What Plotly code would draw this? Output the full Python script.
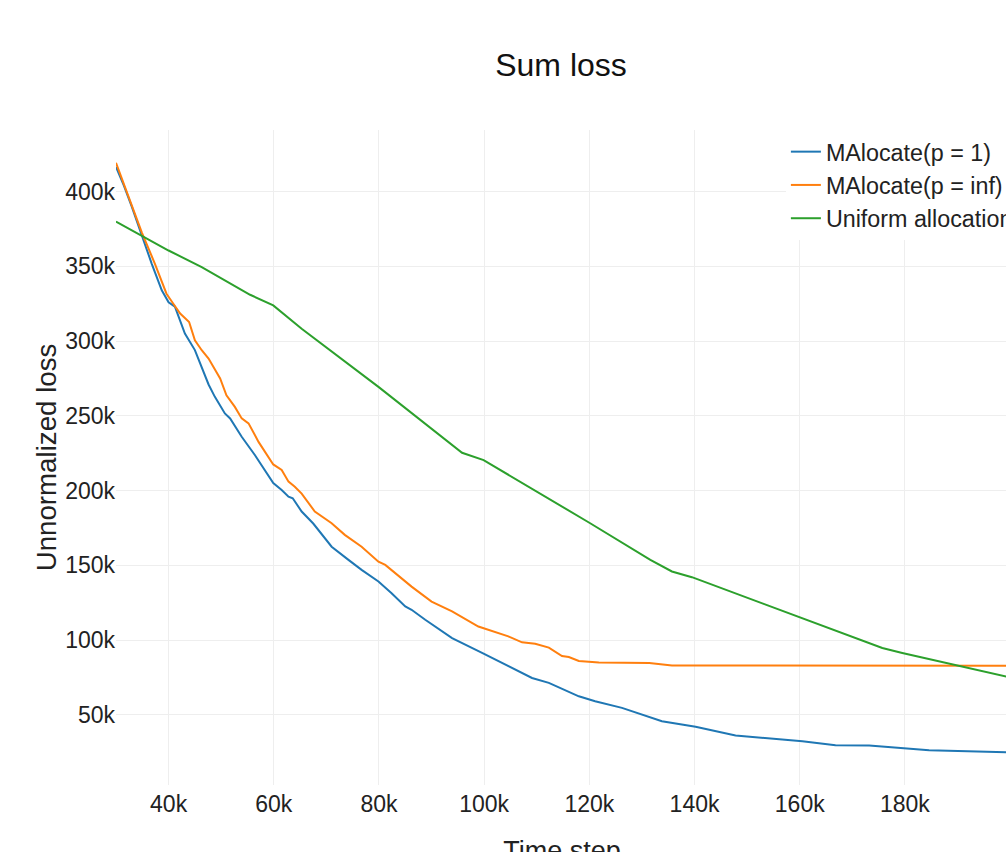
import plotly.graph_objects as go

# Time step (k) and unnormalized loss (k)
p1_x = [30, 31.5, 33, 34.9, 36.8, 38.7, 40, 41.2, 43.1, 45, 46.3, 47.6, 48.8, 50.7, 51.7,
        53.9, 56.4, 58.3, 59.9, 61.5, 62.8, 63.6, 65.3, 67.5, 71, 74.2, 76.7, 79.9, 82.4,
        85, 86.2, 88.8, 93.9, 99.6, 104.6, 109.1, 112.3, 118, 121.1, 126.2, 133.8, 140.2,
        147.8, 160.5, 166.8, 173.2, 184.6, 199.6]
p1_y = [416.5, 404, 390, 370.6, 351.7, 334, 326, 323, 305, 294, 282.7, 271, 262.7, 251.6, 248.3,
        236, 223.8, 213.8, 205, 200.4, 196, 194.9, 186, 178, 162.5, 153.7, 147, 139.2, 131.4,
        122.5, 120.3, 113.6, 101.4, 91.4, 82.4, 74.7, 71.4, 62.4, 59.1, 54.7, 45.7, 42,
        36.2, 32.4, 29.7, 29.5, 26.4, 25]

pinf_x = [30, 34.9, 37.4, 39.6, 40.9, 42.2, 43.9, 45, 46.3, 47.6, 49.8, 51, 52.6, 53.9, 55.2,
          57.1, 59.9, 61.5, 62.8, 64, 65.3, 67.8, 71, 73.5, 76.7, 79.9, 81.2, 83.1, 86.2, 90,
          92.6, 93.9, 98.9, 104.6, 107.2, 109.7, 112.3, 114.8, 116.1, 118, 121.8, 131.4,
          135.7, 199.6]
pinf_y = [419.3, 372.8, 351.7, 331.7, 325, 318.4, 312.8, 300.5, 293.9, 288.3, 275, 263.8, 256,
          248.3, 245, 232.6, 217.5, 213.8, 206, 202.6, 198, 186, 178.2, 170.4, 162.5, 152.5,
          150.3, 144.8, 135.8, 125.8, 121.4, 119.2, 109.1, 102.5, 98.5, 97.6, 95, 89.4, 88.7,
          86, 85.1, 84.7, 83.1, 82.9]

uni_x = [30, 35, 40, 46.3, 55.5, 59.9, 65.3, 79.9, 95.8, 99.9, 120, 131.6, 135.7, 139.5,
         159.8, 175.7, 179.5, 199.6]
uni_y = [380, 370.5, 360.6, 349.5, 331, 323.9, 308.3, 269.4, 225.3, 220.4, 178.5, 153.7,
         145.9, 142.1, 115.8, 94.7, 91.4, 75.4]

series = [
    ("MAlocate(p = 1)", p1_x, p1_y, "#1f77b4"),
    ("MAlocate(p = inf)", pinf_x, pinf_y, "#ff7f0e"),
    ("Uniform allocation", uni_x, uni_y, "#2ca02c"),
]

FONT = "Liberation Sans, Arial, sans-serif"
W, H = 1106, 900

fig = go.Figure()
for name, xs, ys, color in series:
    fig.add_trace(go.Scatter(
        x=[v * 1000 for v in xs], y=[v * 1000 for v in ys], mode="lines", name=name,
        line=dict(color=color, width=2),
    ))

fig.update_layout(
    width=W, height=H,
    paper_bgcolor="white", plot_bgcolor="white",
    font=dict(family=FONT, size=23, color="#222"),
    title=dict(text="Sum loss", x=0.5, xanchor="center", xref="container",
               y=1 - 56.5 / H, yanchor="middle", yref="container",
               font=dict(size=32, color="#111")),
    margin=dict(l=108, r=106, t=122, b=123),
    showlegend=True,
    legend=dict(x=0.751, y=1, xanchor="left", yanchor="top", bgcolor="rgba(255,255,255,1)",
                font=dict(size=23.3, color="#222")),
)
fig.update_xaxes(
    title=dict(text="Time step", font=dict(size=27), standoff=25), dtick=20000, tick0=0,
    showgrid=True, gridcolor="#eeeeee", zeroline=False, showline=False,
    tickfont=dict(size=23), ticklabelstandoff=3,
)
fig.update_yaxes(
    title=dict(text="Unnormalized loss", font=dict(size=27.7), standoff=0), dtick=50000, tick0=0,
    showgrid=True, gridcolor="#eeeeee", zeroline=False, showline=False,
    tickfont=dict(size=23),
)

fig.write_html(
    "out.html",
    post_script="document.documentElement.style.overflow='hidden';"
                "document.body.style.overflow='hidden';"
                "document.body.style.margin='8px 0 0 8px';",
)
